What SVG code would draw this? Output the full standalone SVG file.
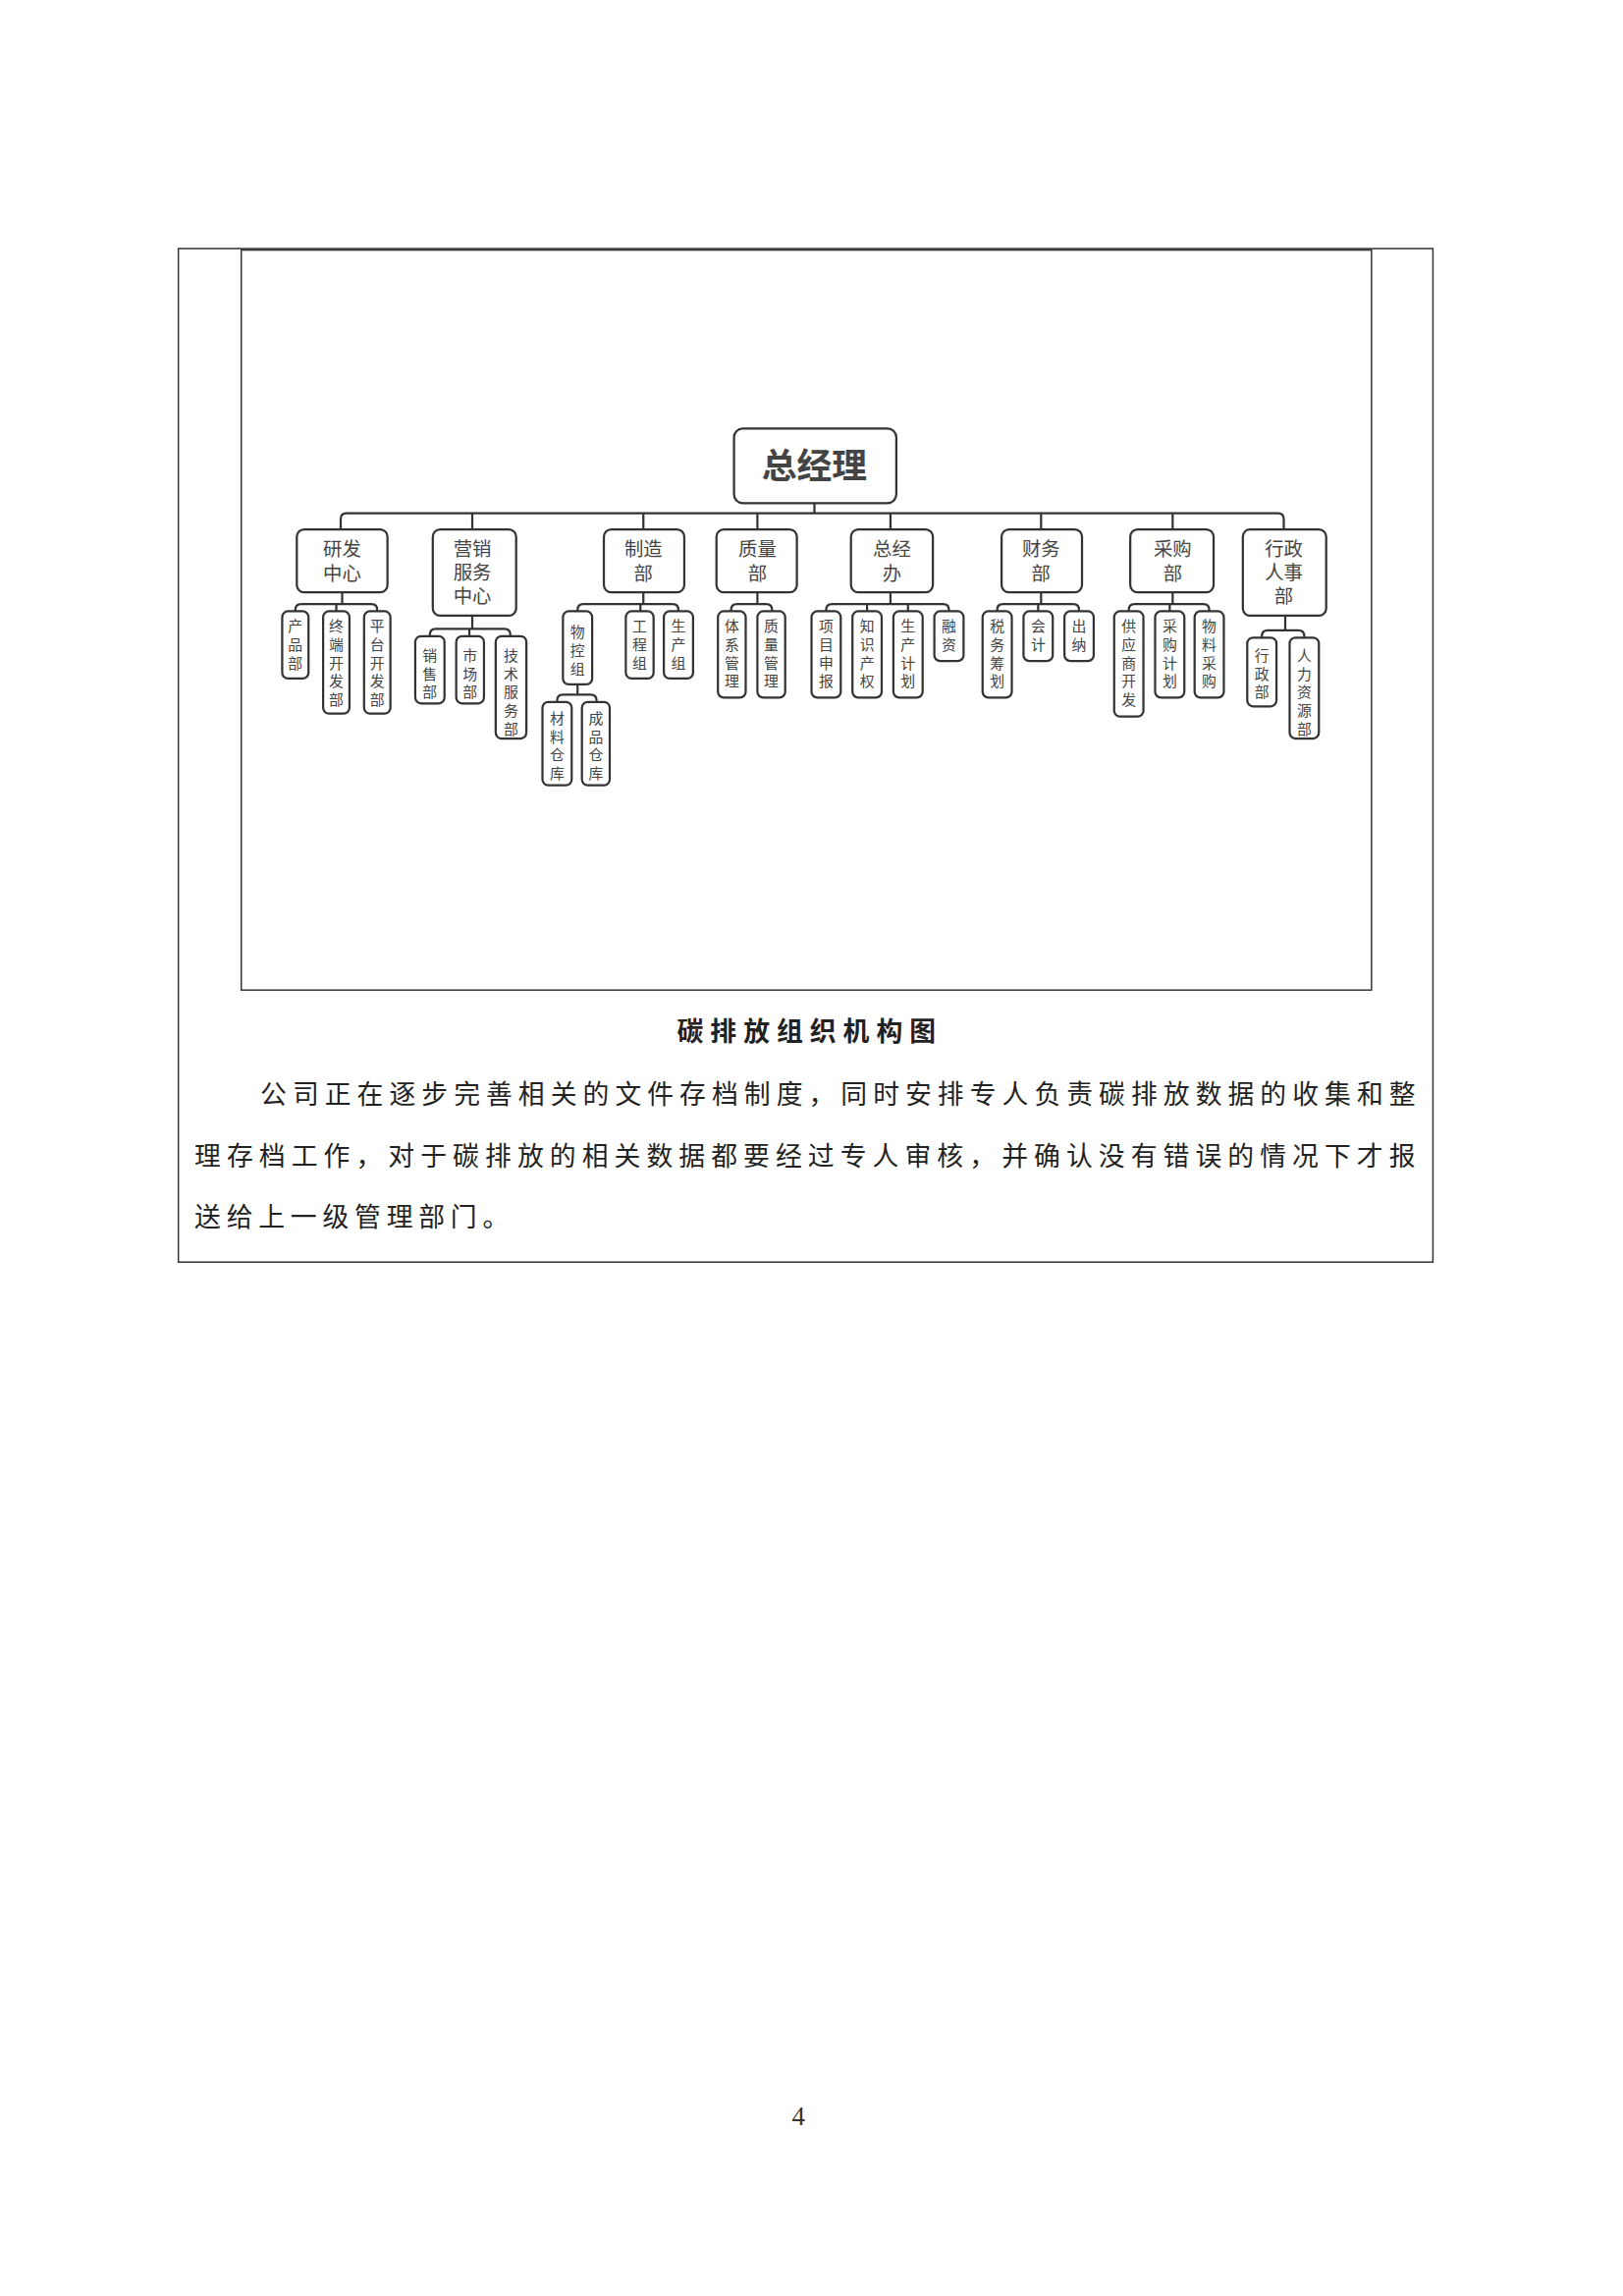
<svg xmlns="http://www.w3.org/2000/svg" width="1653" height="2338" viewBox="0 0 1653 2338">
<style>
.frame{fill:none;stroke:#333;stroke-width:1}
.box{fill:#fff;stroke:#333;stroke-width:1.5}
.con{fill:none;stroke:#333;stroke-width:1.5}
.t1{font-family:"Noto Sans CJK SC",sans-serif;font-size:13px;fill:#444;text-anchor:middle}
.t2{font-family:"Noto Sans CJK SC",sans-serif;font-size:10px;fill:#444;text-anchor:middle}
.top{font-family:"Noto Sans CJK SC",sans-serif;font-size:24px;font-weight:bold;fill:#444;text-anchor:middle}
.body{font-family:"Noto Sans CJK SC",sans-serif;font-size:18px;fill:#222}
</style>
<rect width="1653" height="2338" fill="#fff"/>
<g transform="scale(1.4892)">
<rect class="frame" x="122" y="170" width="858" height="693"/>
<rect class="frame" x="165" y="171" width="773" height="506"/>
<g id="connectors">
<path class="con" d="M557 344V351M233 362V355Q233 351 237 351H874Q878 351 878 355V362M323 351V362M440 351V362M518 351V362M609 351V362M712 351V362M802 351V362"/>
<path class="con" d="M234 405V413M202 418V417Q202 413 206 413H254Q258 413 258 417V418M230 413V418"/>
<path class="con" d="M323 421V430M294 435V434Q294 430 298 430H345Q349 430 349 434V435M321 430V435"/>
<path class="con" d="M440 405V413M395 418V417Q395 413 399 413H460Q464 413 464 417V418M438 413V418"/>
<path class="con" d="M395 468V475M381 480V479Q381 475 385 475H404Q408 475 408 479V480"/>
<path class="con" d="M518 405V413M500 418V417Q500 413 504 413H524Q528 413 528 417V418"/>
<path class="con" d="M609 405V413M565 418V417Q565 413 569 413H645Q649 413 649 417V418M593 413V418M621 413V418"/>
<path class="con" d="M712 405V413M682 418V417Q682 413 686 413H734Q738 413 738 417V418M710 413V418"/>
<path class="con" d="M802 405V413M772 418V417Q772 413 776 413H823Q827 413 827 417V418M800 413V418"/>
<path class="con" d="M879 421V431M863 436V435Q863 431 867 431H888Q892 431 892 435V436"/>
</g>
<g id="n-top"><rect class="box" x="502" y="293" width="111" height="51" rx="6"/><text class="top" x="557" y="327">总经理</text></g>
<g id="n-yf"><rect class="box" x="203" y="362" width="62" height="43" rx="5"/><text class="t1" x="234" y="380">研发</text><text class="t1" x="234" y="397">中心</text></g>
<g id="n-yx"><rect class="box" x="296" y="362" width="57" height="59" rx="5"/><text class="t1" x="323" y="380">营销</text><text class="t1" x="323" y="396">服务</text><text class="t1" x="323" y="412">中心</text></g>
<g id="n-zz"><rect class="box" x="413" y="362" width="55" height="43" rx="5"/><text class="t1" x="440" y="380">制造</text><text class="t1" x="440" y="397">部</text></g>
<g id="n-zl"><rect class="box" x="490" y="362" width="55" height="43" rx="5"/><text class="t1" x="518" y="380">质量</text><text class="t1" x="518" y="397">部</text></g>
<g id="n-zjb"><rect class="box" x="582" y="362" width="56" height="43" rx="5"/><text class="t1" x="610" y="380">总经</text><text class="t1" x="610" y="397">办</text></g>
<g id="n-cw"><rect class="box" x="685" y="362" width="55" height="43" rx="5"/><text class="t1" x="712" y="380">财务</text><text class="t1" x="712" y="397">部</text></g>
<g id="n-cg"><rect class="box" x="773" y="362" width="57" height="43" rx="5"/><text class="t1" x="802" y="380">采购</text><text class="t1" x="802" y="397">部</text></g>
<g id="n-xz"><rect class="box" x="850" y="362" width="57" height="59" rx="5"/><text class="t1" x="878" y="380">行政</text><text class="t1" x="878" y="396">人事</text><text class="t1" x="878" y="412">部</text></g>

<g id="c1"><rect class="box" x="193" y="418" width="18" height="46" rx="4"/><text class="t2" x="202" y="432">产<tspan x="202" dy="12.5">品</tspan><tspan x="202" dy="12.5">部</tspan></text></g>
<g id="c2"><rect class="box" x="221" y="418" width="18" height="70" rx="4"/><text class="t2" x="230" y="432">终<tspan x="230" dy="12.5">端</tspan><tspan x="230" dy="12.5">开</tspan><tspan x="230" dy="12.5">发</tspan><tspan x="230" dy="12.5">部</tspan></text></g>
<g id="c3"><rect class="box" x="249" y="418" width="18" height="70" rx="4"/><text class="t2" x="258" y="432">平<tspan x="258" dy="12.5">台</tspan><tspan x="258" dy="12.5">开</tspan><tspan x="258" dy="12.5">发</tspan><tspan x="258" dy="12.5">部</tspan></text></g>
<g id="c4"><rect class="box" x="284" y="435" width="20" height="46" rx="4"/><text class="t2" x="294" y="452">销<tspan x="294" dy="12.5">售</tspan><tspan x="294" dy="12.5">部</tspan></text></g>
<g id="c5"><rect class="box" x="312" y="435" width="19" height="46" rx="4"/><text class="t2" x="321.5" y="452">市<tspan x="321.5" dy="12.5">场</tspan><tspan x="321.5" dy="12.5">部</tspan></text></g>
<g id="c6"><rect class="box" x="339" y="435" width="21" height="70" rx="4"/><text class="t2" x="349.5" y="452">技<tspan x="349.5" dy="12.5">术</tspan><tspan x="349.5" dy="12.5">服</tspan><tspan x="349.5" dy="12.5">务</tspan><tspan x="349.5" dy="12.5">部</tspan></text></g>
<g id="c7"><rect class="box" x="385" y="418" width="20" height="50" rx="4"/><text class="t2" x="395" y="436">物<tspan x="395" dy="12.5">控</tspan><tspan x="395" dy="12.5">组</tspan></text></g>
<g id="c8"><rect class="box" x="428" y="418" width="19" height="46" rx="4"/><text class="t2" x="437.5" y="432">工<tspan x="437.5" dy="12.5">程</tspan><tspan x="437.5" dy="12.5">组</tspan></text></g>
<g id="c9"><rect class="box" x="454" y="418" width="20" height="46" rx="4"/><text class="t2" x="464" y="432">生<tspan x="464" dy="12.5">产</tspan><tspan x="464" dy="12.5">组</tspan></text></g>
<g id="c10"><rect class="box" x="371" y="480" width="20" height="57" rx="4"/><text class="t2" x="381" y="495">材<tspan x="381" dy="12.5">料</tspan><tspan x="381" dy="12.5">仓</tspan><tspan x="381" dy="12.5">库</tspan></text></g>
<g id="c11"><rect class="box" x="398" y="480" width="19" height="57" rx="4"/><text class="t2" x="407.5" y="495">成<tspan x="407.5" dy="12.5">品</tspan><tspan x="407.5" dy="12.5">仓</tspan><tspan x="407.5" dy="12.5">库</tspan></text></g>
<g id="c12"><rect class="box" x="491" y="418" width="19" height="59" rx="4"/><text class="t2" x="500.5" y="432">体<tspan x="500.5" dy="12.5">系</tspan><tspan x="500.5" dy="12.5">管</tspan><tspan x="500.5" dy="12.5">理</tspan></text></g>
<g id="c13"><rect class="box" x="518" y="418" width="19" height="59" rx="4"/><text class="t2" x="527.5" y="432">质<tspan x="527.5" dy="12.5">量</tspan><tspan x="527.5" dy="12.5">管</tspan><tspan x="527.5" dy="12.5">理</tspan></text></g>
<g id="c14"><rect class="box" x="555" y="418" width="20" height="59" rx="4"/><text class="t2" x="565" y="432">项<tspan x="565" dy="12.5">目</tspan><tspan x="565" dy="12.5">申</tspan><tspan x="565" dy="12.5">报</tspan></text></g>
<g id="c15"><rect class="box" x="583" y="418" width="20" height="59" rx="4"/><text class="t2" x="593" y="432">知<tspan x="593" dy="12.5">识</tspan><tspan x="593" dy="12.5">产</tspan><tspan x="593" dy="12.5">权</tspan></text></g>
<g id="c16"><rect class="box" x="611" y="418" width="20" height="59" rx="4"/><text class="t2" x="621" y="432">生<tspan x="621" dy="12.5">产</tspan><tspan x="621" dy="12.5">计</tspan><tspan x="621" dy="12.5">划</tspan></text></g>
<g id="c17"><rect class="box" x="639" y="418" width="20" height="34" rx="4"/><text class="t2" x="649" y="432">融<tspan x="649" dy="12.5">资</tspan></text></g>
<g id="c18"><rect class="box" x="672" y="418" width="20" height="59" rx="4"/><text class="t2" x="682" y="432">税<tspan x="682" dy="12.5">务</tspan><tspan x="682" dy="12.5">筹</tspan><tspan x="682" dy="12.5">划</tspan></text></g>
<g id="c19"><rect class="box" x="700" y="418" width="20" height="34" rx="4"/><text class="t2" x="710" y="432">会<tspan x="710" dy="12.5">计</tspan></text></g>
<g id="c20"><rect class="box" x="728" y="418" width="20" height="34" rx="4"/><text class="t2" x="738" y="432">出<tspan x="738" dy="12.5">纳</tspan></text></g>
<g id="c21"><rect class="box" x="762" y="418" width="20" height="72" rx="4"/><text class="t2" x="772" y="432">供<tspan x="772" dy="12.5">应</tspan><tspan x="772" dy="12.5">商</tspan><tspan x="772" dy="12.5">开</tspan><tspan x="772" dy="12.5">发</tspan></text></g>
<g id="c22"><rect class="box" x="790" y="418" width="20" height="59" rx="4"/><text class="t2" x="800" y="432">采<tspan x="800" dy="12.5">购</tspan><tspan x="800" dy="12.5">计</tspan><tspan x="800" dy="12.5">划</tspan></text></g>
<g id="c23"><rect class="box" x="817" y="418" width="20" height="59" rx="4"/><text class="t2" x="827" y="432">物<tspan x="827" dy="12.5">料</tspan><tspan x="827" dy="12.5">采</tspan><tspan x="827" dy="12.5">购</tspan></text></g>
<g id="c24"><rect class="box" x="853" y="436" width="20" height="47" rx="4"/><text class="t2" x="863" y="452">行<tspan x="863" dy="12.5">政</tspan><tspan x="863" dy="12.5">部</tspan></text></g>
<g id="c25"><rect class="box" x="882" y="436" width="20" height="69" rx="4"/><text class="t2" x="892" y="452">人<tspan x="892" dy="12.5">力</tspan><tspan x="892" dy="12.5">资</tspan><tspan x="892" dy="12.5">源</tspan><tspan x="892" dy="12.5">部</tspan></text></g>

<text class="body" x="463" y="712" textLength="177" lengthAdjust="spacing" style="font-size:18px;font-weight:bold">碳排放组织机构图</text>
<text class="body" x="178" y="755" textLength="790" lengthAdjust="spacing">公司正在逐步完善相关的文件存档制度，同时安排专人负责碳排放数据的收集和整</text>
<text class="body" x="133" y="797" textLength="835" lengthAdjust="spacing">理存档工作，对于碳排放的相关数据都要经过专人审核，并确认没有错误的情况下才报</text>
<text class="body" x="133" y="839" textLength="215" lengthAdjust="spacing">送给上一级管理部门。</text>
<text x="546" y="1453" text-anchor="middle" style="font-family:'Liberation Serif',serif;font-size:18px;fill:#333">4</text>
</g>
</svg>
